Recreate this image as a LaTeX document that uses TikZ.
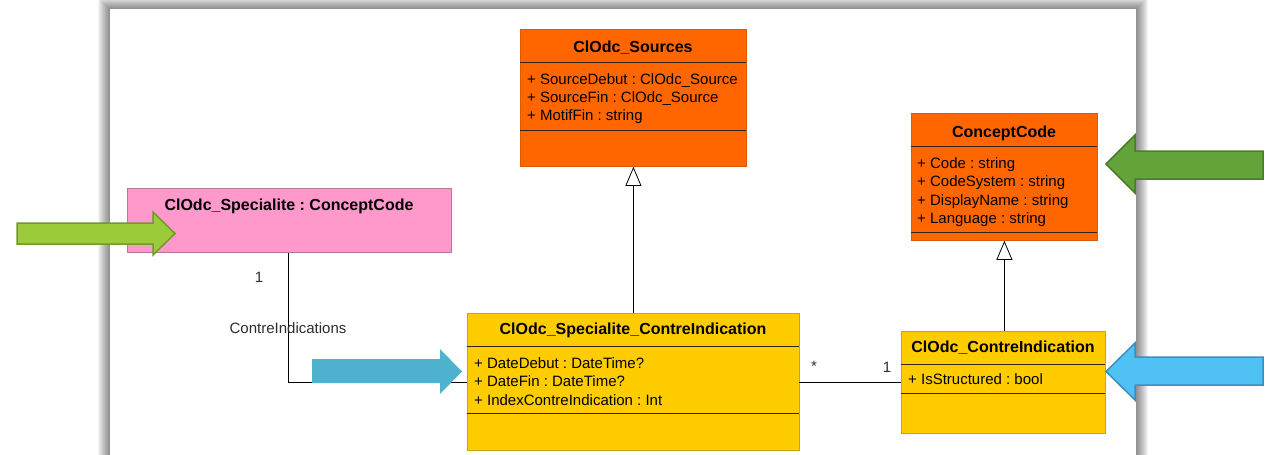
\documentclass[tikz,border=0pt]{standalone}
\usepackage{fontspec}
\setmainfont{Liberation Sans}
\usetikzlibrary{arrows.meta}
\frenchspacing
\definecolor{orangefill}{RGB}{255,102,0}
\definecolor{orangeline}{RGB}{214,92,10}
\definecolor{yellowfill}{RGB}{255,204,0}
\definecolor{yellowline}{RGB}{205,165,20}
\definecolor{pinkfill}{RGB}{255,153,204}
\definecolor{pinkline}{RGB}{190,115,155}
\definecolor{sepline}{RGB}{50,35,20}
\definecolor{labelgrey}{RGB}{45,45,45}
\definecolor{lgreenfill}{RGB}{155,203,59}
\definecolor{lgreenline}{RGB}{113,154,42}
\definecolor{dgreenfill}{RGB}{98,163,58}
\definecolor{dgreenline}{RGB}{76,126,42}
\definecolor{tealfill}{RGB}{79,179,208}
\definecolor{bluefill}{RGB}{79,193,245}
\definecolor{blueline}{RGB}{60,142,191}
\tikzset{
  umlbox/.style={rectangle, inner sep=0pt, anchor=north west, line width=0.8pt},
  orangebox/.style={umlbox, draw=orangeline, fill=orangefill},
  yellowbox/.style={umlbox, draw=yellowline, fill=yellowfill},
  pinkbox/.style={umlbox, draw=pinkline, fill=pinkfill},
  sep/.style={draw=sepline, line width=0.9pt},
  title/.style={font=\fontsize{16}{19}\selectfont\bfseries, inner sep=0pt, text height=11.5pt, text depth=0pt, anchor=center},
  attr/.style={font=\fontsize{15}{18}\selectfont, inner sep=0pt, text height=10.7pt, text depth=0pt, anchor=west},
  lbl/.style={font=\fontsize{15}{18}\selectfont, text=labelgrey, inner sep=0pt, text height=10.7pt, text depth=0pt, anchor=center},
  conn/.style={draw=black, line width=0.8pt},
  gen/.style={conn, -{Triangle[open, length=19pt, width=16pt, line width=0.8pt]}},
}
\begin{document}
\begin{tikzpicture}[x=1pt, y=-1pt]
\useasboundingbox (0,0) rectangle (1278,455);
\fill[white] (0,0) rectangle (1278,455);
% page panel with shadow
\foreach \i in {1,...,12} {
  \fill[black, opacity=0.042] (110-\i, 9-\i) rectangle (1136+\i, 460);
}
\fill[white] (110,9) rectangle (1136,460);

% ClOdc_Sources
\node[orangebox, minimum width=226pt, minimum height=137pt] (src) at (520,29) {};
\draw[sep] (520,62) -- (746,62);
\draw[sep] (520,130) -- (746,130);
\node[title] (srct) at (633,47) {ClOdc\_Sources};
\node[attr] (srca1) at (527,79) {+ SourceDebut : ClOdc\_Source};
\node[attr] (srca2) at (527,97) {+ SourceFin : ClOdc\_Source};
\node[attr] (srca3) at (527,115) {+ MotifFin : string};

% ConceptCode
\node[orangebox, minimum width=186pt, minimum height=127pt] (cc) at (911,113) {};
\draw[sep] (911,146) -- (1097,146);
\draw[sep] (911,232) -- (1097,232);
\node[title] (cct) at (1004,132) {ConceptCode};
\node[attr] (cca1) at (917,163) {+ Code : string};
\node[attr] (cca2) at (917,181) {+ CodeSystem : string};
\node[attr] (cca3) at (917,200) {+ DisplayName : string};
\node[attr] (cca4) at (917,218) {+ Language : string};

% ClOdc_Specialite : ConceptCode
\node[pinkbox, minimum width=324pt, minimum height=64pt] (spec) at (127,188) {};
\node[title] (spect) at (289,205) {ClOdc\_Specialite : ConceptCode};

% ClOdc_Specialite_ContreIndication
\node[yellowbox, minimum width=332pt, minimum height=137pt] (sci) at (467,313) {};
\draw[sep] (467,346) -- (799,346);
\draw[sep] (467,413) -- (799,413);
\node[title] (scit) at (633,329) {ClOdc\_Specialite\_ContreIndication};
\node[attr] (scia1) at (474,363) {+ DateDebut : DateTime?};
\node[attr] (scia2) at (474,381) {+ DateFin : DateTime?};
\node[attr] (scia3) at (474,400) {+ IndexContreIndication : Int};

% ClOdc_ContreIndication
\node[yellowbox, minimum width=204pt, minimum height=102pt] (ci) at (901,331) {};
\draw[sep] (901,364) -- (1105,364);
\draw[sep] (901,393) -- (1105,393);
\node[title] (cit) at (1003,347) {ClOdc\_ContreIndication};
\node[attr] (cia1) at (908,379) {+ IsStructured : bool};

% connectors
\draw[gen] (sci.north) -- (src.south);
\draw[gen] (ci.north -| cc.south) -- (cc.south);
\coordinate (assocY) at (799,382);
\draw[conn] (assocY) -- (assocY -| ci.west);
\coordinate (bend) at (288,382);
\draw[conn] (bend |- spec.south) -- (bend) -- (bend -| sci.west);
\node[lbl] (m1) at (814,366) {*};
\node[lbl] (m2) at (887,367) {1};
\node[lbl] (m3) at (259,277) {1};
\node[lbl] (role) at (288,328) {ContreIndications};

% block arrows
\fill[lgreenfill, draw=lgreenline, line width=1.5pt, line join=miter]
  (17,223) -- (153,223) -- (153,212) -- (175,233.5) -- (153,255) -- (153,244) -- (17,244) -- cycle;
\fill[dgreenfill, draw=dgreenline, line width=1.5pt, line join=miter]
  (1263,151) -- (1135,151) -- (1135,135) -- (1106,164) -- (1135,193) -- (1135,179) -- (1263,179) -- cycle;
\fill[tealfill]
  (312,359) -- (440,359) -- (440,349) -- (462,371.5) -- (440,394) -- (440,383) -- (312,383) -- cycle;
\fill[bluefill, draw=blueline, line width=1.5pt, line join=miter]
  (1263,357) -- (1135,357) -- (1135,343) -- (1106,371.5) -- (1135,400) -- (1135,385) -- (1263,385) -- cycle;
\end{tikzpicture}
\end{document}
